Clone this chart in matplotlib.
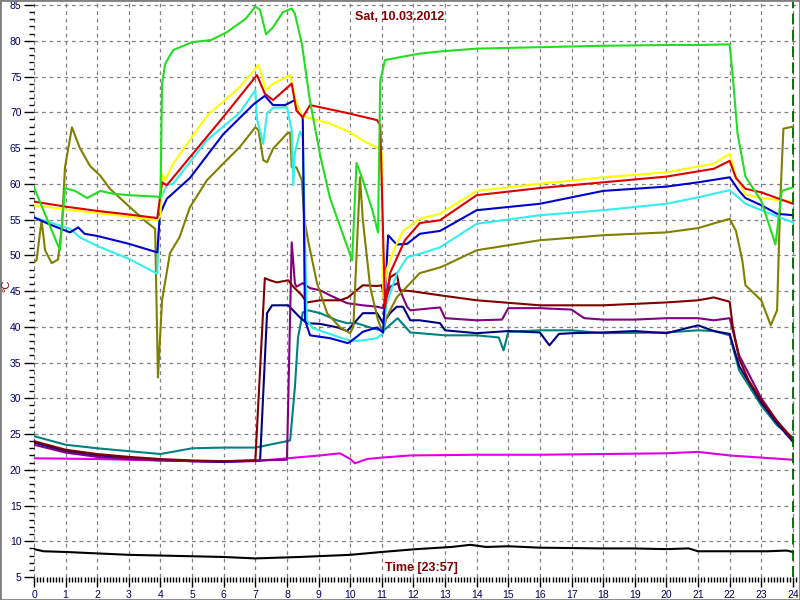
import matplotlib
matplotlib.use("Agg")
import matplotlib.pyplot as plt
from matplotlib.ticker import MultipleLocator
from matplotlib.patches import Rectangle

# hours / degC
green_t = [0, 0.82, 0.98, 1.3, 1.68, 2.1, 2.5, 3.0, 3.9, 4.0, 4.05, 4.15, 4.4, 5.0, 5.6, 6.1, 6.7, 7.0, 7.15,
           7.34, 7.56, 7.87, 8.15, 8.25, 8.47, 8.73, 9.05, 9.36, 10.06, 10.2, 10.4, 10.7, 10.88, 10.95, 11.1,
           11.57, 12.2, 12.84, 14, 16, 18, 20, 21, 22.0, 22.1, 22.25, 22.5, 23.0, 23.45, 23.65, 24]
green_v = [59.5, 50.7, 59.4, 59, 58, 59, 58.6, 58.4, 58.2, 58.0, 74, 76.8, 78.7, 79.8, 80.1, 81.2, 83.1, 84.8, 84.3,
           80.9, 81.9, 84, 84.5, 83.8, 79.6, 71.5, 64, 58, 49.3, 62.9, 60.5, 56.3, 53.2, 74.4, 77.3,
           77.7, 78.2, 78.5, 78.9, 79.1, 79.3, 79.4, 79.4, 79.5, 75, 67, 61, 57.6, 51.5, 59, 59.5]

yellow_t = [0, 1, 2, 3, 3.9, 4.0, 4.05, 4.15, 4.4, 5.47, 6.5, 7.1, 7.34, 7.56, 8.1, 8.3, 8.5, 8.63, 9.3, 9.9,
            10.5, 10.88, 11.0, 11.05, 11.15, 11.4, 11.67, 12.2, 12.84, 14, 16, 18, 20, 21.5, 22.0, 22.2, 22.5, 23, 24]
yellow_v = [57.0, 56.4, 55.9, 55.4, 54.9, 55.5, 61.4, 60.5, 62.8, 69.5, 73.5, 76.6, 73.1, 74, 75.2, 71.2, 69.3, 69.3,
            68.5, 67.4, 65.8, 65, 64.5, 44, 47.9, 51, 53.4, 55.1, 55.8, 59, 60, 60.9, 61.6, 62.8, 64.2, 61, 58.5, 58, 57.5]

red_t = [0, 1, 2, 3, 3.9, 4.05, 4.2, 4.93, 5.98, 7.05, 7.3, 7.56, 8.15, 8.3, 8.5, 8.73, 9.9, 10.85, 10.95, 11.1,
         11.26, 11.73, 12.2, 12.84, 14, 16, 18, 20, 21.5, 22.0, 22.2, 22.5, 23, 23.5, 24]
red_v = [57.5, 56.8, 56.2, 55.7, 55.2, 60.2, 59.8, 63.7, 69.3, 75.2, 72.6, 71.7, 74.0, 70.2, 69.3, 71.0, 69.9, 68.9,
         68.2, 42.7, 47.5, 52.1, 54.5, 54.9, 58.4, 59.4, 60.2, 61, 62.1, 63.2, 60.8, 59.3, 58.8, 58.0, 57.2]

blue_t = [0, 0.5, 1.14, 1.4, 1.6, 2, 3, 3.9, 3.98, 4.2, 4.93, 5.98, 6.94, 7.3, 7.56, 7.94, 8.25, 8.5, 8.57, 8.73,
          9.36, 9.93, 10.15, 10.4, 10.85, 11.04, 11.2, 11.47, 11.8, 12.2, 12.84, 14, 16, 18, 20, 21, 22, 22.3,
          22.5, 23, 23.5, 24]
blue_v = [55.3, 54.3, 53.2, 53.9, 53, 52.7, 51.6, 50.4, 55.7, 57.9, 60.8, 66.9, 71.1, 72.3, 71, 71, 71.7, 69.1, 40.9,
          38.8, 38.4, 37.7, 38.4, 39.3, 39.9, 39.2, 52.8, 51.5, 51.6, 53, 53.4, 56.3, 57.2, 59.0, 59.6, 60.2, 60.9,
          59, 58, 57, 55.8, 55.6]

cyan_t = [0, 1.14, 1.45, 2, 3, 3.9, 3.98, 4.2, 4.4, 5.47, 6.5, 7.0, 7.05, 7.25, 7.37, 7.56, 8.0, 8.15, 8.2, 8.25,
          8.41, 8.5, 8.57, 8.63, 8.82, 9.68, 10.06, 10.4, 10.85, 11.04, 11.15, 11.47, 11.8, 12.2, 12.84, 14, 16,
          18, 20, 21, 22, 22.3, 22.5, 23, 24]
cyan_v = [55.3, 53.7, 52.5, 51.3, 49.5, 47.4, 57.7, 59.8, 60, 66.1, 69.9, 73.1, 69.1, 65.6, 69.9, 70.6, 70.7, 67.5,
          59.8, 64.3, 67.3, 66.5, 52.1, 40.9, 39.8, 38.5, 38.0, 38.1, 38.4, 39.1, 43.2, 47.4, 49.7, 50.2, 51.1,
          54.4, 55.6, 56.3, 57.2, 58.1, 59.1, 58, 57.2, 56.3, 54.6]

olive_t = [0, 0.08, 0.24, 0.35, 0.56, 0.76, 0.88, 0.98, 1.2, 1.45, 1.77, 2.1, 2.4, 3.04, 3.57, 3.83, 3.92, 4.05,
           4.3, 4.6, 4.93, 5.47, 5.98, 6.5, 7.0, 7.1, 7.25, 7.37, 7.56, 8.0, 8.1, 8.15, 8.3, 8.47, 8.55, 8.67,
           8.95, 9.27, 9.68, 10.0, 10.1, 10.31, 10.4, 10.63, 10.88, 11.04, 11.15, 11.47, 11.9, 12.2, 12.84, 13,
           14, 16, 18, 20, 21, 22, 22.2, 22.4, 22.5, 23, 23.3, 23.5, 23.6, 23.7, 24]
olive_v = [49, 49.3, 54.9, 50.7, 48.9, 49.4, 53.9, 62.3, 67.9, 65, 62.5, 61.1, 59.3, 56.7, 54.6, 53.7, 32.9, 43.7,
           50.3, 52.5, 56.7, 60.5, 62.8, 65.1, 67.9, 67.5, 63.3, 63, 64.9, 67.0, 67.2, 62.3, 62.3, 60.5, 55, 52,
           46.1, 41.9, 39.9, 39.1, 40, 60.9, 54.9, 45.6, 40.9, 39.2, 41.3, 44.1, 46.1, 47.5, 48.3, 48.6,
           50.7, 52.1, 52.8, 53.2, 53.8, 55.1, 53.4, 49.3, 45.8, 43.7, 40.2, 42.3, 57.6, 67.7, 68]

maroon_t = [0, 1, 2, 3, 4, 5, 6, 7.0, 7.3, 7.46, 7.68, 8.04, 8.2, 8.47, 8.63, 9.05, 9.68, 9.93, 10.2, 10.4, 10.85,
            11.0, 11.1, 11.26, 11.47, 11.57, 11.9, 12.84, 14, 16, 18, 20, 21, 21.5, 22.0, 22.1, 22.3, 22.6, 23,
            23.5, 24]
maroon_v = [24.0, 22.8, 22.2, 21.8, 21.5, 21.3, 21.2, 21.3, 46.8, 46.5, 46.2, 46.5, 45.6, 44.4, 43.4, 43.7, 43.7,
            44.1, 45.1, 45.8, 45.7, 45.8, 43.4, 46.9, 47.5, 45.1, 45.0, 44.4, 43.7, 43.0, 43.0, 43.4, 43.7, 44.1,
            43.5, 40, 35.5, 32.5, 29.7, 26.8, 24.3]

navy_t = [0, 1, 2, 3, 4, 5, 6, 7.15, 7.37, 7.53, 8.04, 8.41, 8.63, 9.05, 9.61, 9.9, 10.2, 10.4, 10.85, 11.04,
          11.26, 11.47, 11.67, 11.9, 12.2, 12.84, 13, 14, 15, 16, 16.3, 16.6, 17, 18, 19, 20, 21, 21.5, 22,
          22.3, 23, 23.5, 24]
navy_v = [23.8, 22.6, 22.0, 21.7, 21.4, 21.2, 21.1, 21.3, 41.9, 43, 43, 41.3, 40.5, 40.4, 39.9, 39.4, 40.9, 41.9,
          41.9, 40.5, 41.9, 42.8, 42.8, 40.9, 40.9, 40.5, 39.5, 39.1, 39.4, 39.2, 37.4, 39.0, 39.1, 39.2, 39.4,
          39.1, 40.2, 39.4, 39.0, 34.5, 29.4, 26.5, 23.9]

teal_t = [0, 1, 2, 3, 4, 4.5, 5, 6, 7, 7.78, 8.1, 8.25, 8.35, 8.5, 8.67, 9.05, 9.58, 9.9, 10.2, 10.63, 11.04,
          11.5, 11.9, 12.2, 13, 14, 14.7, 14.85, 15, 16, 17, 18, 20, 21, 21.5, 22, 22.3, 22.6, 23, 23.5, 24]
teal_v = [24.7, 23.5, 23.0, 22.6, 22.2, 22.6, 23.0, 23.1, 23.1, 23.8, 24.1, 31.5, 38.5, 42, 42.3, 41.9, 40.9,
          40.5, 40.5, 39.9, 39.4, 41.2, 39.2, 39.1, 38.8, 38.8, 38.5, 36.7, 39.3, 39.5, 39.5, 39.1, 39.2, 39.5,
          39.4, 38.8, 33.9, 31.8, 29, 26.2, 24.5]

purple_t = [0, 1, 2, 3, 4, 5, 6, 7, 8.0, 8.15, 8.25, 8.3, 8.5, 8.73, 9.05, 9.36, 9.9, 10.4, 10.85, 11.04, 11.26,
            11.5, 11.67, 11.8, 11.9, 12.84, 13, 14, 14.8, 15, 16, 17, 17.4, 18, 19, 20, 21, 21.5, 22, 22.3, 23,
            23.5, 24]
purple_v = [23.5, 22.4, 21.8, 21.5, 21.3, 21.2, 21.2, 21.3, 21.4, 51.8, 46.1, 45.6, 46.1, 45.4, 45.1, 44.4, 43.3,
            43, 42.8, 42.6, 45.6, 46.1, 44.1, 42.8, 42.3, 42.7, 41.2, 40.9, 41, 42.6, 42.6, 42.4, 41.2, 41.0, 41,
            41.2, 41.2, 40.9, 41.2, 36, 30, 26.8, 24.1]

magenta_t = [0, 2, 4, 6, 7, 8, 9.05, 9.68, 10.0, 10.15, 10.53, 11, 11.9, 14, 16, 18, 20, 21, 22, 23, 24]
magenta_v = [21.6, 21.5, 21.3, 21.1, 21.2, 21.6, 22.0, 22.3, 21.5, 20.9, 21.5, 21.7, 22.0, 22.1, 22.1, 22.2, 22.3,
             22.5, 22.0, 21.7, 21.4]

black_t = [0, 0.3, 1, 2, 3, 4, 5, 6, 7, 8.4, 10, 11, 12.1, 13.2, 13.8, 14.3, 15, 16, 17.9, 18.9, 20, 20.7, 21,
           22.1, 23.2, 23.8, 24]
black_v = [8.9, 8.6, 8.5, 8.3, 8.1, 8.0, 7.9, 7.8, 7.6, 7.8, 8.1, 8.5, 8.9, 9.2, 9.5, 9.2, 9.3, 9.1, 9.0, 9.0,
           8.9, 9.0, 8.6, 8.6, 8.6, 8.7, 8.5]

series = [
    (black_t, black_v, "#000000"),
    (magenta_t, magenta_v, "#e000e0"),
    (teal_t, teal_v, "#008080"),
    (navy_t, navy_v, "#000080"),
    (purple_t, purple_v, "#800080"),
    (maroon_t, maroon_v, "#800000"),
    (olive_t, olive_v, "#808000"),
    (cyan_t, cyan_v, "#33eeee"),
    (blue_t, blue_v, "#0000cc"),
    (yellow_t, yellow_v, "#ffff00"),
    (red_t, red_v, "#dd0000"),
    (green_t, green_v, "#22dd22"),
]

plt.rcParams["font.family"] = ["Liberation Sans", "DejaVu Sans"]
dark_red = "#800000"

fig = plt.figure(figsize=(8, 6), dpi=100, facecolor="white")
ax = fig.add_axes([34 / 800, 23 / 600, 763 / 800, 576 / 600])
ax.set_facecolor("white")

for t, v, c in series:
    ax.plot(t, v, color=c, linewidth=1.5, solid_joinstyle="round")

# current-time marker
ax.axvline(24, color="#006400", linewidth=1.3, linestyle=(0, (6, 3)))

ax.set_xlim(0, 24.13)
ax.set_ylim(5, 85.56)
ax.xaxis.set_major_locator(MultipleLocator(1))
ax.xaxis.set_minor_locator(MultipleLocator(0.1))
ax.yaxis.set_major_locator(MultipleLocator(5))
ax.yaxis.set_minor_locator(MultipleLocator(1))
ax.tick_params(which="major", direction="out", length=7, width=1, color="black",
               labelcolor="#000066", labelsize=7.5, pad=2)
ax.tick_params(which="minor", direction="out", length=3.5, width=1, color="black")
for s in ax.spines.values():
    s.set_visible(False)

ax.grid(which="major", linestyle=(0, (3, 3)), color="#808080", linewidth=0.9)
ax.set_axisbelow(True)
ax.xaxis.get_gridlines()[0].set_visible(False)
ax.yaxis.get_gridlines()[0].set_visible(False)

fig.text(0.5, 1 - 17 / 600, "Sat, 10.03.2012", ha="center", va="center",
         color=dark_red, fontsize=9, fontweight="bold")
fig.text(421 / 800, 32 / 600, "Time [23:57]", ha="center", va="center",
         color=dark_red, fontsize=9, fontweight="bold")
fig.text(6 / 800, 1 - 286 / 600, "°C", ha="center", va="center", rotation=90,
         color=dark_red, fontsize=8)

fig.patches.append(Rectangle((0, 0), 1, 1, transform=fig.transFigure, fill=False,
                             edgecolor="#808080", linewidth=2))

fig.savefig("out.png", dpi=100)
